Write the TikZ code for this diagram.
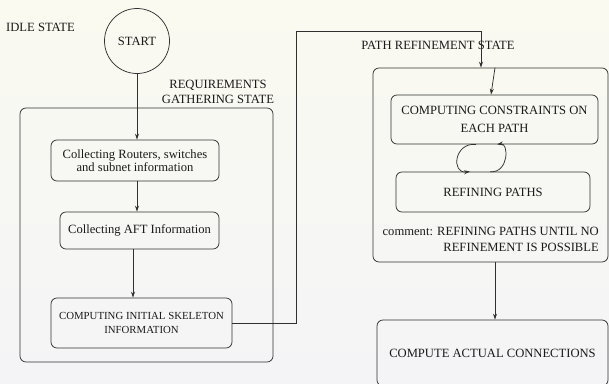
\documentclass[tikz,border=0pt]{standalone}
\usepackage{fontspec}
\setmainfont{Liberation Serif}
\usetikzlibrary{arrows.meta}
\definecolor{ink}{HTML}{303030}
\definecolor{txt}{HTML}{1A1A1A}
\tikzset{
  box/.style={draw=ink, rounded corners=6pt, line width=0.75pt, inner sep=0pt, align=center, text=txt},
  arr/.style={draw=ink, line width=0.75pt, -{Stealth[length=6pt,width=4pt]}},
  lbl/.style={text=txt, inner sep=0pt, align=center},
}
\begin{document}
\begin{tikzpicture}[x=1pt, y=-1pt, font=\fontsize{12.6}{15}\selectfont]
\useasboundingbox (0,0) rectangle (609,383);
\shade[top color={rgb,255:red,250;green,250;blue,240}, bottom color={rgb,255:red,244;green,244;blue,246}] (0,0) rectangle (609,383);

% labels
\node[lbl, anchor=west] (idle) at (6,27) {IDLE STATE};
\node[lbl] (reqlbl) at (218,92) {\fontsize{12.6}{14}\selectfont REQUIREMENTS\\GATHERING STATE};
\node[lbl] (pathlbl) at (438,45) {PATH REFINEMENT STATE};

% start
\node[draw=ink, circle, line width=0.75pt, minimum size=65pt, inner sep=0pt, text=txt] (start) at (137,41) {START};

% requirement gathering container
\node[box, minimum width=253pt, minimum height=254pt] (reqbox) at (146.5,235) {};
\node[box, minimum width=168pt, minimum height=41pt, font=\fontsize{12.6}{13}\selectfont] (coll) at (135,160.5) {Collecting Routers, switches\\and subnet information};
\node[box, minimum width=159pt, minimum height=37pt] (aft) at (139.5,230.5) {Collecting AFT Information};
\node[box, minimum width=181pt, minimum height=50pt, font=\fontsize{10.8}{14}\selectfont] (skel) at (141.5,323) {COMPUTING INITIAL SKELETON\\INFORMATION};

% path refinement container
\node[box, minimum width=235pt, minimum height=194pt] (pathbox) at (490.5,165) {};
\node[box, minimum width=207pt, minimum height=49pt, font=\fontsize{12.6}{18}\selectfont] (cons) at (494.5,119.5) {COMPUTING CONSTRAINTS ON\\EACH PATH};
\node[box, minimum width=194pt, minimum height=40pt] (refine) at (493,192) {REFINING PATHS};
\node[lbl, anchor=east, align=right, font=\fontsize{12.6}{16}\selectfont] (comment) at (599,239) {comment: REFINING PATHS UNTIL NO\\REFINEMENT IS POSSIBLE};

% final
\node[box, minimum width=231pt, minimum height=66pt] (compute) at (492.5,353) {COMPUTE ACTUAL CONNECTIONS};

% connectors
\coordinate (bend) at (296,31);
\draw[arr] (start.south) -- (start.south |- coll.north);
\draw[arr] ([xshift=2pt]coll.south) -- ([xshift=2pt]coll.south |- aft.north);
\draw[arr] ([xshift=-6.5pt]aft.south) -- ([xshift=-6.5pt]aft.south |- skel.north);
\draw[arr] (skel.east) -| (bend) -| ([xshift=-9.5pt]pathbox.north);
\draw[arr] ([xshift=4.5pt]pathbox.north) -- ([xshift=-3.5pt]cons.north);
\draw[arr] ([xshift=-18.5pt]cons.south) .. controls ([xshift=-40.5pt,yshift=2pt]cons.south) and ([xshift=-42pt,yshift=-2pt]refine.north) .. ([xshift=-23pt]refine.north);
\draw[arr] ([xshift=-3pt]refine.north) .. controls ([xshift=16pt,yshift=-2pt]refine.north) and ([xshift=14.5pt,yshift=2pt]cons.south) .. ([xshift=2.5pt]cons.south);
\draw[arr] ([xshift=4.5pt]pathbox.south) -- ([xshift=4.5pt]pathbox.south |- compute.north);
\end{tikzpicture}
\end{document}
